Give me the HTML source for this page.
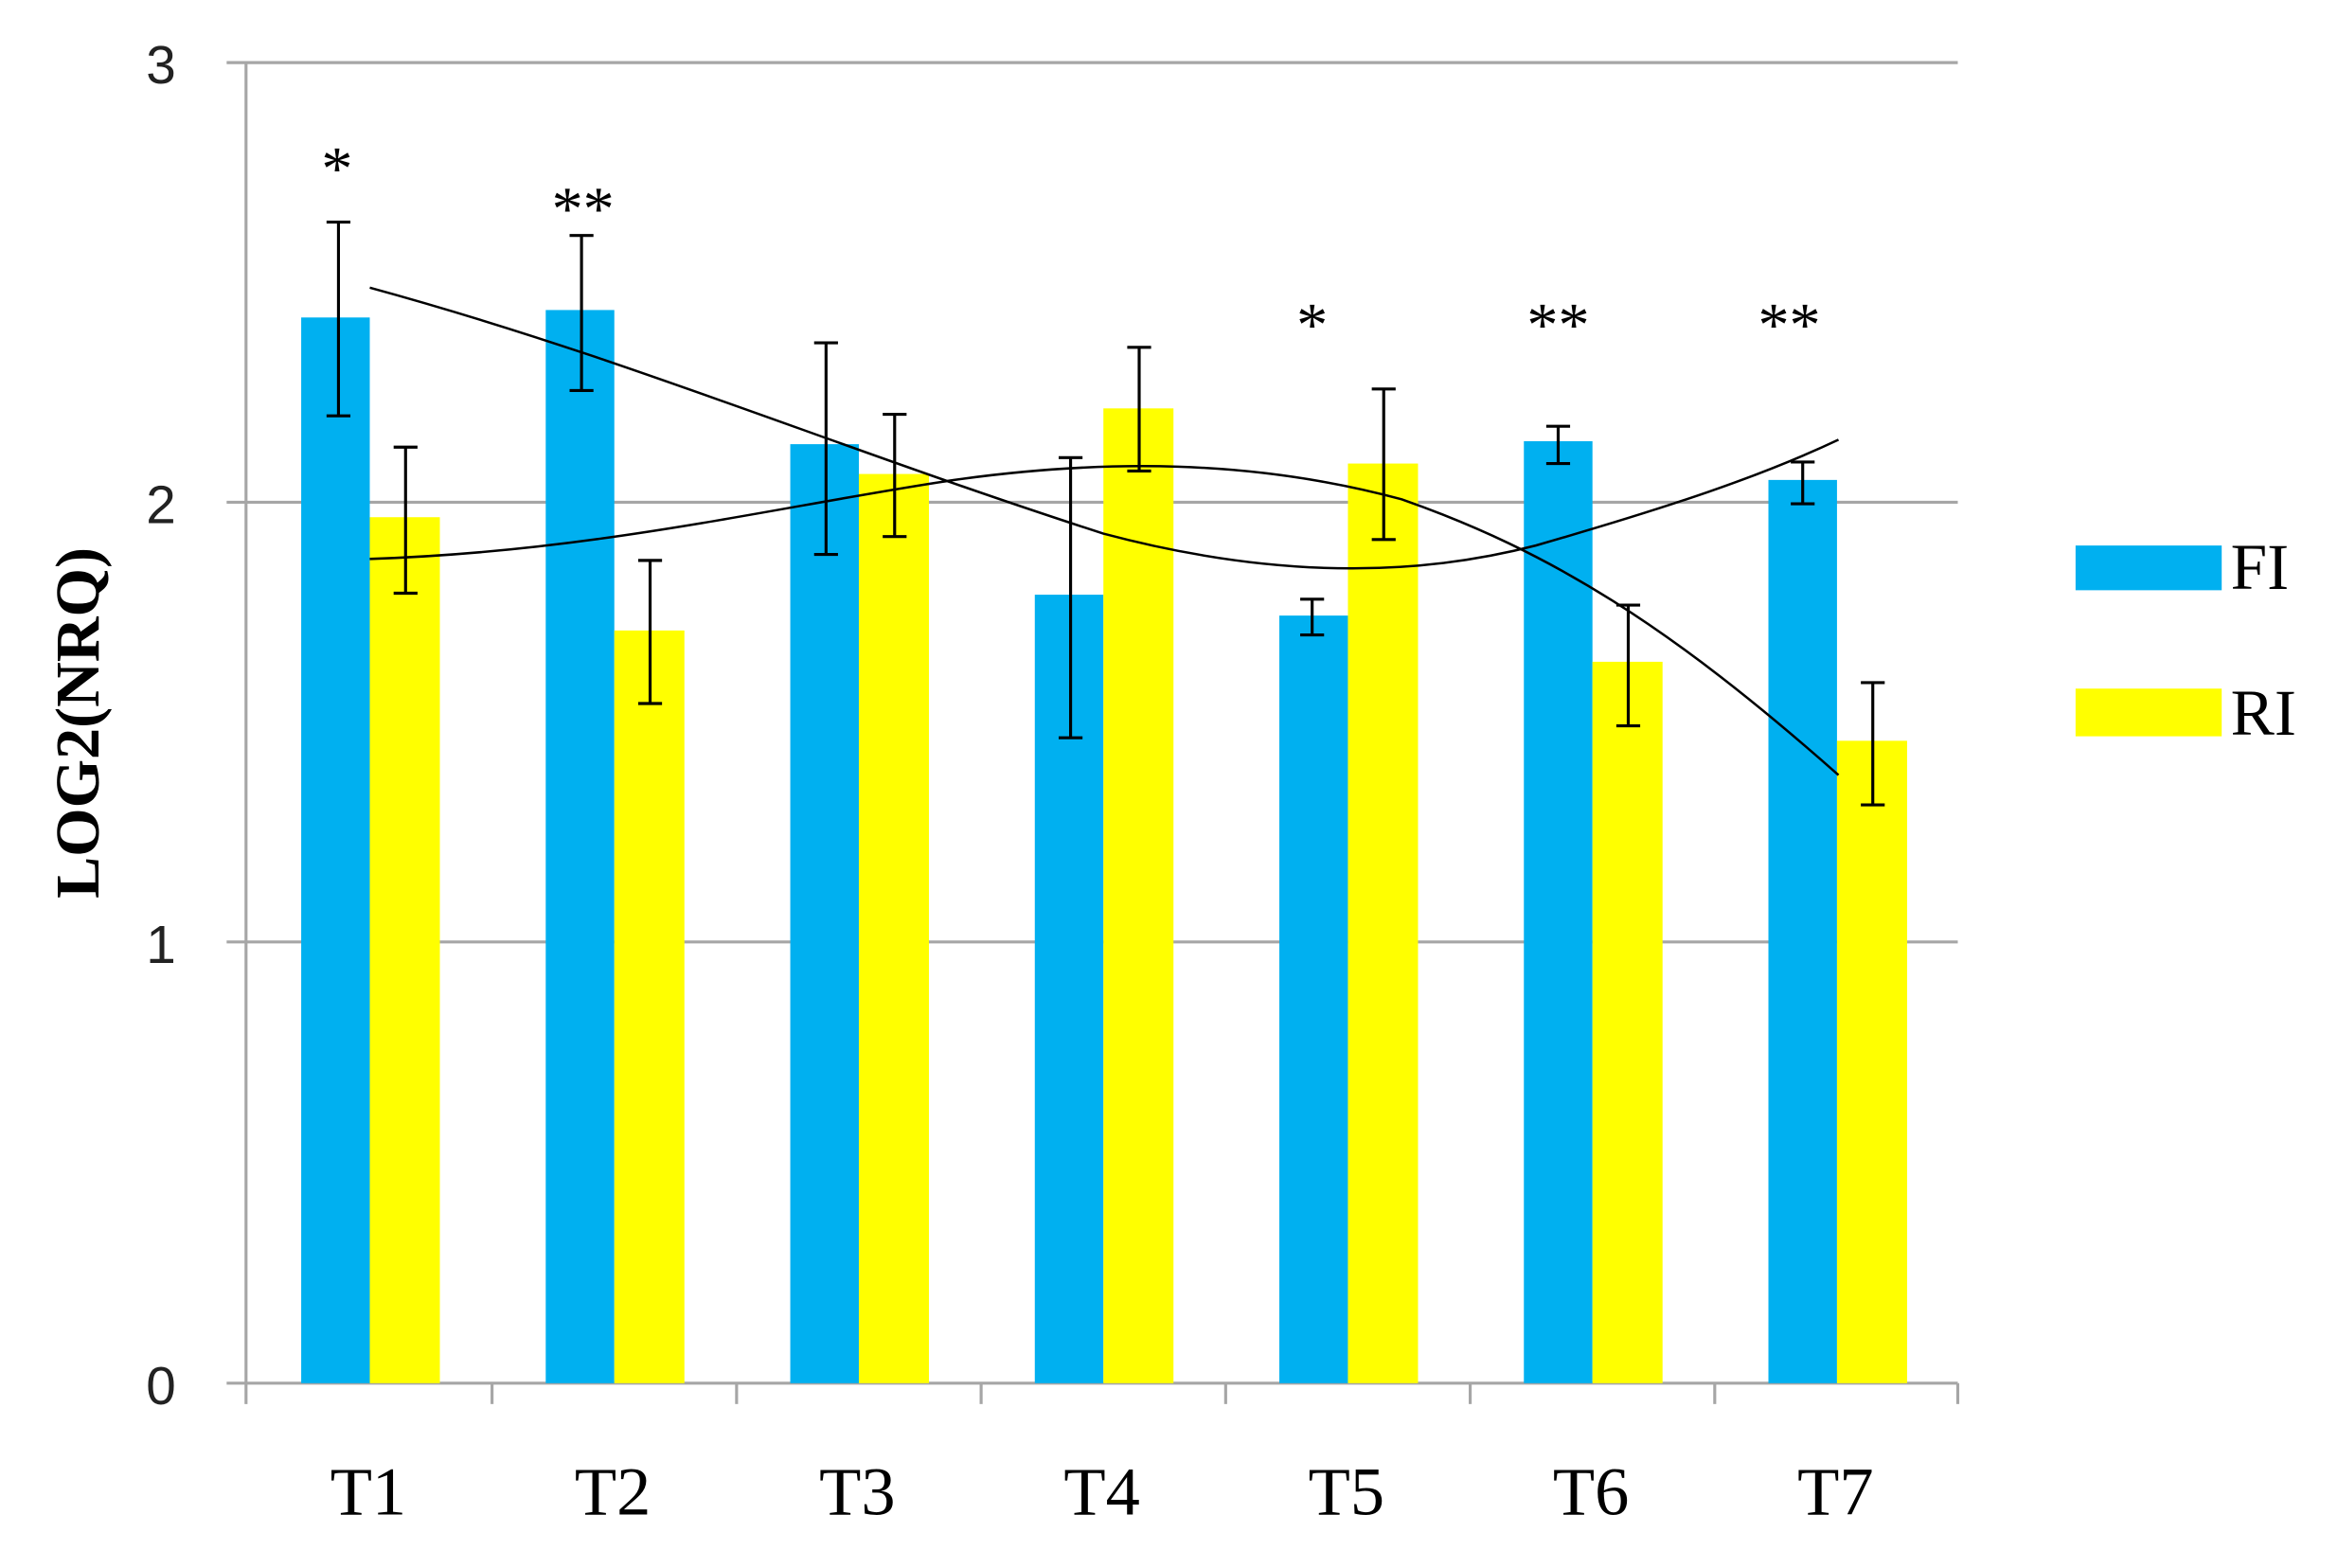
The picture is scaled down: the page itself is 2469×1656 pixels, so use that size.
<!DOCTYPE html>
<html><head><meta charset="utf-8"><style>
html,body{margin:0;padding:0;background:#fff;}
svg{display:block;}
</style></head><body>
<svg width="2469" height="1656" viewBox="0 0 1568 1052" preserveAspectRatio="none" xmlns="http://www.w3.org/2000/svg">
<rect width="1568" height="1052" fill="#fff"/>
<g stroke="#a6a6a6" stroke-width="2">
<line x1="152" y1="42" x2="1313" y2="42"/>
<line x1="152" y1="337" x2="1313" y2="337"/>
<line x1="152" y1="632" x2="1313" y2="632"/>
<line x1="152" y1="928" x2="1313" y2="928"/>
<line x1="165" y1="42" x2="165" y2="942"/>
<line x1="330" y1="928" x2="330" y2="942"/>
<line x1="494" y1="928" x2="494" y2="942"/>
<line x1="658" y1="928" x2="658" y2="942"/>
<line x1="822" y1="928" x2="822" y2="942"/>
<line x1="986" y1="928" x2="986" y2="942"/>
<line x1="1150" y1="928" x2="1150" y2="942"/>
<line x1="1313" y1="928" x2="1313" y2="942"/>
</g>
<g fill="#00b0f0">
<rect x="202" y="213" width="46" height="715"/>
<rect x="366" y="208" width="46" height="720"/>
<rect x="530" y="298" width="46" height="630"/>
<rect x="694" y="399" width="46" height="529"/>
<rect x="858" y="413" width="46" height="515"/>
<rect x="1022" y="296" width="46" height="632"/>
<rect x="1186" y="322" width="46" height="606"/>
</g>
<g fill="#ffff00">
<rect x="248" y="347" width="47" height="581"/>
<rect x="412" y="423" width="47" height="505"/>
<rect x="576" y="318" width="47" height="610"/>
<rect x="740" y="274" width="47" height="654"/>
<rect x="904" y="311" width="47" height="617"/>
<rect x="1068" y="444" width="47" height="484"/>
<rect x="1232" y="497" width="47" height="431"/>
</g>
<g stroke="#000" stroke-width="2" fill="none">
<path d="M227 149V279M219 149H235M219 279H235"/>
<path d="M390 158V262M382 158H398M382 262H398"/>
<path d="M554 230V372M546 230H562M546 372H562"/>
<path d="M718 307V495M710 307H726M710 495H726"/>
<path d="M880 402V426M872 402H888M872 426H888"/>
<path d="M1045 286V311M1037 286H1053M1037 311H1053"/>
<path d="M1209 310V338M1201 310H1217M1201 338H1217"/>
<path d="M272 300V398M264 300H280M264 398H280"/>
<path d="M436 376V472M428 376H444M428 472H444"/>
<path d="M600 278V360M592 278H608M592 360H608"/>
<path d="M764 233V316M756 233H772M756 316H772"/>
<path d="M928 261V362M920 261H936M920 362H936"/>
<path d="M1092 406V487M1084 406H1100M1084 487H1100"/>
<path d="M1256 458V540M1248 458H1264M1248 540H1264"/>
</g>
<g stroke="#000" stroke-width="1.6" fill="none">
<path d="M248 193 C420 240 560 300 740 358 C830 382 930 392 1030 366 C1120 340 1180 320 1233 295"/>
<path d="M248 375 C400 370 520 340 640 322 C740 308 840 308 940 335 C1040 370 1120 420 1233 520"/>
</g>
<g font-family="Liberation Serif, serif" font-size="42" fill="#000" text-anchor="middle">
<text x="226" y="127">*</text>
<text x="391" y="154">**</text>
<text x="880" y="232">*</text>
<text x="1045" y="232">**</text>
<text x="1200" y="232">**</text>
</g>
<g font-family="Liberation Sans, sans-serif" font-size="36" fill="#222" text-anchor="end">
<text x="118" y="56">3</text>
<text x="118" y="351">2</text>
<text x="118" y="646">1</text>
<text x="118" y="942">0</text>
</g>
<g font-family="Liberation Serif, serif" font-size="46" fill="#000" text-anchor="middle">
<text x="247" y="1016">T1</text>
<text x="411" y="1016">T2</text>
<text x="575" y="1016">T3</text>
<text x="739" y="1016">T4</text>
<text x="903" y="1016">T5</text>
<text x="1067" y="1016">T6</text>
<text x="1231" y="1016">T7</text>
</g>
<text transform="translate(66,485) rotate(-90)" font-family="Liberation Serif, serif" font-weight="bold" font-size="42" text-anchor="middle" fill="#000">LOG2(NRQ)</text>
<rect x="1392" y="366" width="98" height="30" fill="#00b0f0"/>
<rect x="1392" y="462" width="98" height="32" fill="#ffff00"/>
<g font-family="Liberation Serif, serif" font-size="44" fill="#000">
<text x="1496" y="395">FI</text>
<text x="1496" y="493">RI</text>
</g>
</svg>
</body></html>
